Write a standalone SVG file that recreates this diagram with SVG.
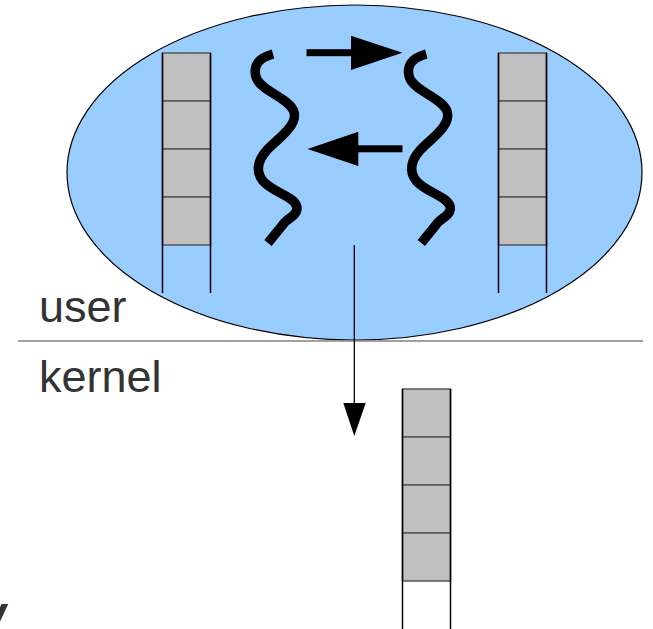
<svg xmlns="http://www.w3.org/2000/svg" width="653" height="629" viewBox="0 0 653 629">
  <style>
    .label { font-family: "Liberation Sans", Arial, sans-serif; font-size: 45px; fill: #333333; }
    .cell { fill: #c0c0c0; stroke: #555555; stroke-width: 1.5; }
    .side { stroke: #000000; stroke-width: 1.5; }
    .thread { fill: none; stroke: #000000; stroke-width: 9.5; stroke-linecap: butt; stroke-linejoin: round; }
    .msg { fill: #000000; }
  </style>
  <defs>
    <!-- one message queue: four filled slots plus an open bottom -->
    <g id="queue">
      <rect class="cell" x="0" y="0" width="48" height="48"/>
      <rect class="cell" x="0" y="48" width="48" height="48"/>
      <rect class="cell" x="0" y="96" width="48" height="48"/>
      <rect class="cell" x="0" y="144" width="48" height="48"/>
      <line class="side" x1="0" y1="0" x2="0" y2="240"/>
      <line class="side" x1="48" y1="0" x2="48" y2="240"/>
    </g>
    <!-- a wavy thread -->
    <path id="wave" class="thread" d="M 273 54 C 258 58 253 66 256 77 C 260 91 290 98 294 112 C 298 126 276 140 267 150 C 258 160 255 171 263 181 C 273 193 298 197 297 209 C 296 216 290 217 285 222 L 268 243"/>
  </defs>

  <!-- user process -->
  <g id="process">
    <ellipse cx="354.5" cy="172.5" rx="287.5" ry="167.5" fill="#99ccff" stroke="#000000" stroke-width="1.2"/>
  </g>

  <g id="queue-left"><use href="#queue" x="162.5" y="53"/></g>
  <g id="queue-right"><use href="#queue" x="498.5" y="53"/></g>
  <g id="queue-kernel"><use href="#queue" x="402.5" y="389"/></g>

  <g id="thread-left"><use href="#wave"/></g>
  <g id="thread-right"><use href="#wave" x="153.3"/></g>

  <!-- user / kernel boundary -->
  <line x1="18" y1="341" x2="643" y2="341" stroke="#808080" stroke-width="1.5"/>
  <text class="label" x="39" y="322">user</text>
  <text class="label" x="39" y="392">kernel</text>

  <g id="connectors">
    <!-- messages between the threads -->
    <rect class="msg" x="306.5" y="49.2" width="46" height="7"/>
    <path class="msg" d="M351 35.7 L402.5 52.8 L351 70 Z"/>
    <rect class="msg" x="356" y="145.3" width="46.5" height="7"/>
    <path class="msg" d="M358.3 131.7 L307.5 149 L358.3 166 Z"/>
    <!-- call down into the kernel -->
    <line x1="354.3" y1="245" x2="354.3" y2="405" stroke="#000" stroke-width="1.3"/>
    <path class="msg" d="M343.3 403 L365.7 403 L354.3 436 Z"/>
  </g>

  <text x="-35" y="631" font-family="Liberation Sans, Arial, sans-serif" font-size="52" font-weight="bold" font-style="italic" fill="#333333">w</text>
</svg>
